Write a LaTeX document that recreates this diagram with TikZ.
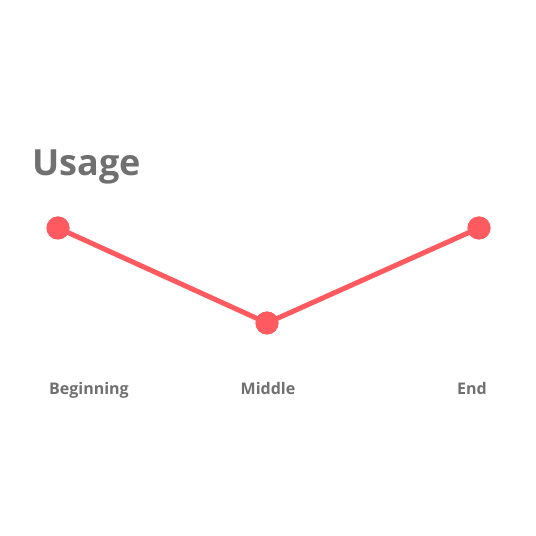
\documentclass[tikz,border=0pt]{standalone}
\usepackage{fontspec}
\setmainfont{Open Sans}
\definecolor{linered}{HTML}{FF5A5F}
\definecolor{txtgray}{HTML}{707070}
\begin{document}
\begin{tikzpicture}[x=1pt,y=1pt,
  dot/.style={circle,fill=linered,inner sep=0pt,minimum size=23pt},
  lbl/.style={font=\fontsize{16}{19}\selectfont\bfseries,text=txtgray,inner sep=0pt,anchor=base},
  conn/.style={draw=linered,line width=5pt}]
\useasboundingbox[fill=white] (0,0) rectangle (536,536);
\node[font=\fontsize{36}{42}\selectfont\bfseries,text=txtgray,inner sep=0pt,anchor=base west] (title) at (32,360) {Usage};
\node[dot] (a) at (58,308) {};
\node[dot] (b) at (267,213) {};
\node[dot] (c) at (479,308) {};
\draw[conn] (a.center) -- (b.center) -- (c.center);
\node[dot] at (a) {};
\node[dot] at (b) {};
\node[dot] at (c) {};
\node[lbl] (la) at (89,141) {Beginning};
\node[lbl] (lb) at (268,141) {Middle};
\node[lbl] (lc) at (472,141) {End};
\end{tikzpicture}
\end{document}
